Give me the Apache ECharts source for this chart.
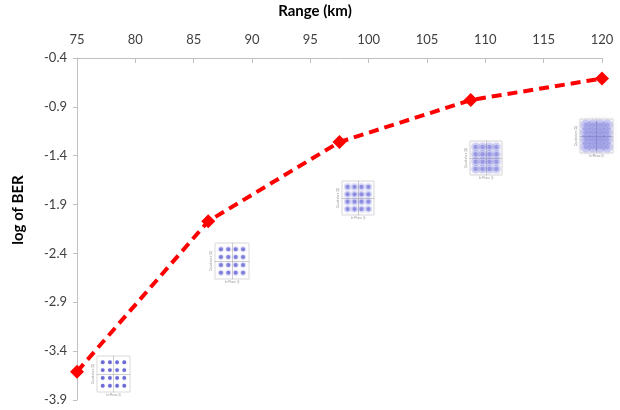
<!DOCTYPE html>
<html>
<head>
<meta charset="utf-8">
<script src="https://cdn.jsdelivr.net/npm/echarts@6/dist/echarts.min.js"></script>
<style>
  html, body { margin: 0; padding: 0; background: #ffffff; }
  #chart { width: 620px; height: 410px; }
</style>
</head>
<body>
<div id="chart"></div>
<script>
// Measured bit error rate versus link range
const rangeKm = [75, 86.25, 97.5, 108.75, 120];
const logBer = [-3.61, -2.07, -1.26, -0.83, -0.61];

// Axis tick settings
const rangeTicks = { min: 75, max: 120, step: 5 };
const berTicks = { min: -3.9, max: -0.4, step: 0.5 };

// 16-QAM levels on each rail (I and Q)
const qamLevels = [-3, -1, 1, 3];

// Received constellation at each range: how far each symbol cluster smears
const clusterSpread = [1, 1.5, 2, 2.6, 3.4];

const FONT = 'Lato, "Open Sans", sans-serif';
const chart = echarts.init(document.getElementById('chart'));

// Small constellation insets placed next to each measured point
const insetLayout = [
  { left: 97, top: 356, width: 33, height: 36 },
  { left: 215, top: 243, width: 34, height: 36 },
  { left: 342, top: 181, width: 32, height: 34 },
  { left: 470, top: 141, width: 32, height: 34 },
  { left: 580, top: 119, width: 33, height: 34 }
];

const symbols = [];
qamLevels.forEach(i => qamLevels.forEach(q => symbols.push([i, q])));

const grids = [{ left: 77, top: 58, right: 18, bottom: 10 }];
const xAxes = [{
  type: 'value', gridIndex: 0, position: 'top',
  min: rangeTicks.min, max: rangeTicks.max, interval: rangeTicks.step,
  axisLine: { show: true, lineStyle: { color: '#bfbfbf', width: 1 } },
  axisTick: { show: true, inside: true, length: 5, lineStyle: { color: '#bfbfbf' } },
  axisLabel: { color: '#404040', fontSize: 13, fontFamily: FONT, margin: 12 },
  splitLine: { show: false }
}];
const yAxes = [{
  type: 'value', gridIndex: 0,
  min: berTicks.min, max: berTicks.max, interval: berTicks.step,
  axisLine: { show: true, lineStyle: { color: '#bfbfbf', width: 1 } },
  axisTick: { show: true, inside: false, length: 4, lineStyle: { color: '#bfbfbf' } },
  axisLabel: { color: '#404040', fontSize: 13, fontFamily: FONT, margin: 10,
    formatter: v => v.toFixed(1) },
  splitLine: { show: false }
}];
const series = [{
  type: 'line', xAxisIndex: 0, yAxisIndex: 0,
  data: rangeKm.map((r, k) => [r, logBer[k]]),
  symbol: 'diamond', symbolSize: 14, clip: false,
  itemStyle: { color: '#ff0000' },
  lineStyle: { color: '#ff0000', width: 4, type: [10, 6] },
  z: 5
}];

insetLayout.forEach((box, k) => {
  const g = k + 1;
  grids.push(Object.assign({ show: true, backgroundColor: '#ffffff',
    borderColor: '#d9d9d9', borderWidth: 1 }, box));
  const axisCommon = {
    type: 'value', gridIndex: g, min: -4.6, max: 4.6,
    axisLine: { show: true, onZero: true, lineStyle: { color: '#b0b0b0', width: 0.6 } },
    axisTick: { show: false }, axisLabel: { show: false }, splitLine: { show: false },
    nameLocation: 'middle', nameGap: 2,
    nameTextStyle: { fontSize: 3, color: '#999999', fontFamily: FONT }
  };
  xAxes.push(Object.assign({}, axisCommon, { name: 'In-Phase (I)' }));
  yAxes.push(Object.assign({}, axisCommon, { name: 'Quadrature (Q)' }));
  const s = clusterSpread[k];
  // outer haze of each cluster
  series.push({
    type: 'scatter', xAxisIndex: g, yAxisIndex: g, data: symbols,
    symbol: 'circle', symbolSize: 2 + s * 2.6, silent: true,
    itemStyle: { color: 'rgba(100,100,215,' + (0.16 + 0.05 * k) + ')',
      shadowBlur: 1 + s * 1.5, shadowColor: 'rgba(90,90,215,0.4)' },
    z: 6
  });
  // dense core of each cluster
  series.push({
    type: 'scatter', xAxisIndex: g, yAxisIndex: g, data: symbols,
    symbol: 'circle', symbolSize: 3.4 + s * 0.4, silent: true,
    itemStyle: { color: 'rgba(50,50,200,' + (0.85 - 0.15 * k) + ')' },
    z: 7
  });
});

chart.setOption({
  animation: false,
  backgroundColor: '#ffffff',
  grid: grids,
  xAxis: xAxes,
  yAxis: yAxes,
  series: series,
  graphic: [
    { type: 'text', x: 315, y: 11,
      style: { text: 'Range (km)', fontSize: 15, fontWeight: 'bold', fontFamily: FONT, fill: '#000000',
        align: 'center', verticalAlign: 'middle' } },
    { type: 'text', x: 18, y: 210, rotation: Math.PI / 2,
      style: { text: 'log of BER', fontSize: 15, fontWeight: 'bold', fontFamily: FONT, fill: '#000000',
        align: 'center', verticalAlign: 'middle' } }
  ]
});
</script>
</body>
</html>
